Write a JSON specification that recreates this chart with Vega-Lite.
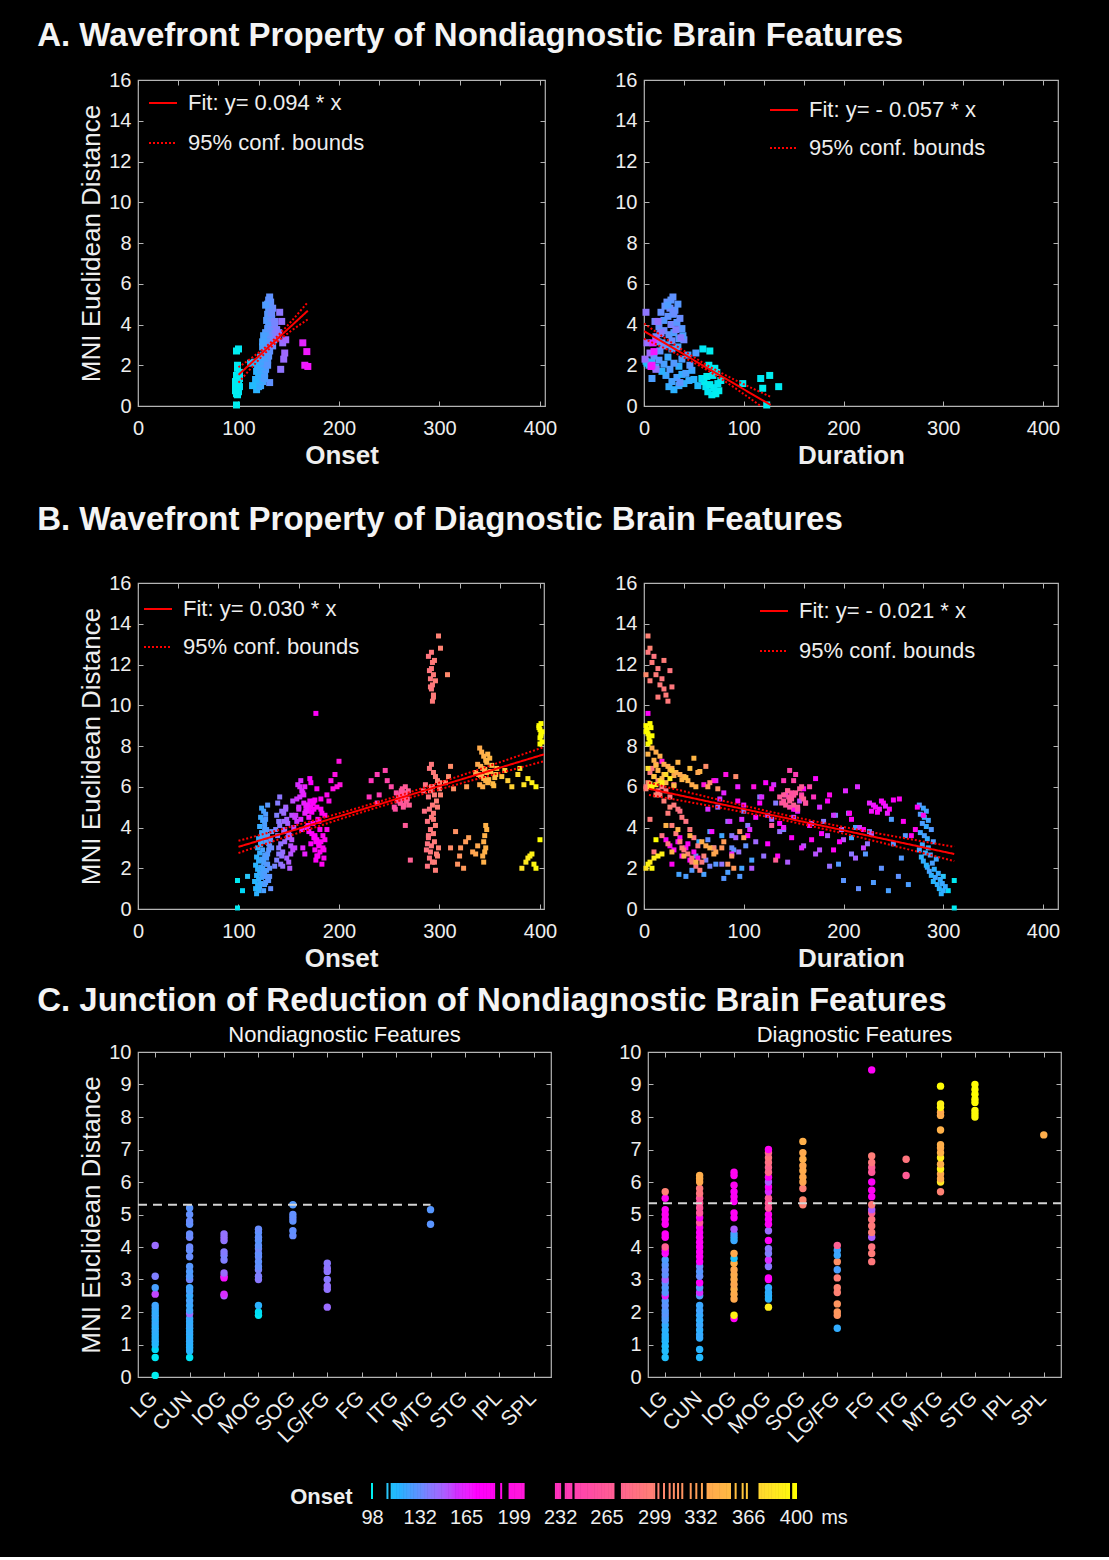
{
  "$schema": "https://vega.github.io/schema/vega-lite/v6.json",
  "background": "black",
  "padding": {"left": 37, "top": 20, "right": 47, "bottom": 30},
  "config": {
    "font": "Liberation Sans",
    "view": {"stroke": "#b4b4b4", "strokeWidth": 1.2},
    "axis": {
      "labelColor": "#eeeeee", "labelFontSize": 20, "labelFont": "Liberation Sans",
      "titleFont": "Liberation Sans", "titleColor": "#eeeeee", "titleFontSize": 26,
      "titleFontWeight": "normal", "domain": false, "grid": false,
      "tickColor": "#b4b4b4", "tickSize": -5, "tickWidth": 1,
      "labelPadding": 12, "titlePadding": 4, "labelFlush": false, "labelOverlap": false
    },
    "axisX": {"titleFontWeight": "bold", "labelPadding": 17},
    "title": {"color": "#f4f4f4", "fontSize": 33, "fontWeight": "bold", "anchor": "start", "font": "Liberation Sans"},
    "legend": {
      "labelColor": "#eeeeee", "labelFontSize": 22, "labelFont": "Liberation Sans", "labelLimit": 400,
      "symbolType": "stroke", "symbolSize": 784, "symbolStrokeWidth": 2, "symbolStrokeColor": "#ff0000",
      "labelOffset": 10, "padding": 0, "rowPadding": 14
    }
  },
  "datasets": {
    "wA": [
      {"o":98,"d":123,"y":0.05},{"o":99,"d":68,"y":0.55},{"o":98,"d":72,"y":0.6},{"o":100,"d":64,"y":0.7},{"o":97,"d":75,"y":0.75},{"o":99,"d":70,"y":0.9},{"o":101,"d":62,"y":0.95},{"o":98,"d":66,"y":1.05},{"o":100,"d":74,"y":1.1},{"o":97,"d":60,"y":1.2},{"o":99,"d":77,"y":1.25},{"o":101,"d":58,"y":1.35},{"o":98,"d":63,"y":1.45},{"o":100,"d":69,"y":1.5},{"o":99,"d":99,"y":1.1},{"o":97,"d":119,"y":0.87},{"o":100,"d":117,"y":1.35},{"o":98,"d":126,"y":1.5},{"o":99,"d":135,"y":0.95},{"o":101,"d":73,"y":1.65},{"o":99,"d":65,"y":2.0},{"o":100,"d":59,"y":2.8},{"o":98,"d":66,"y":2.7},{"o":99,"d":71,"y":1.85},
      {"o":118,"d":30,"y":0.8},{"o":120,"d":25,"y":0.95},{"o":122,"d":35,"y":1.0},{"o":119,"d":40,"y":1.1},{"o":124,"d":28,"y":1.2},{"o":121,"d":45,"y":1.25},{"o":117,"d":50,"y":1.3},{"o":125,"d":33,"y":1.4},{"o":123,"d":22,"y":1.5},{"o":120,"d":38,"y":1.55},{"o":126,"d":42,"y":1.6},{"o":118,"d":18,"y":1.7},{"o":122,"d":48,"y":1.75},{"o":127,"d":26,"y":1.8},{"o":124,"d":12,"y":1.9},{"o":119,"d":35,"y":1.95},{"o":121,"d":5,"y":2.0},{"o":125,"d":20,"y":2.05},{"o":128,"d":30,"y":2.1},{"o":116,"d":8,"y":2.15},{"o":123,"d":2,"y":2.2},{"o":129,"d":15,"y":2.25},{"o":126,"d":38,"y":2.3},{"o":122,"d":24,"y":2.4},{"o":130,"d":10,"y":2.45},{"o":125,"d":44,"y":2.5},{"o":127,"d":52,"y":2.6},{"o":131,"d":16,"y":2.7},{"o":128,"d":28,"y":2.8},{"o":124,"d":34,"y":2.9},{"o":114,"d":54,"y":1.0},{"o":112,"d":3,"y":2.1},{"o":129,"d":46,"y":2.0},{"o":131,"d":36,"y":1.15},{"o":126,"d":8,"y":1.35},
      {"o":126,"d":22,"y":3.0},{"o":130,"d":18,"y":3.1},{"o":133,"d":28,"y":3.2},{"o":128,"d":35,"y":3.3},{"o":135,"d":12,"y":3.4},{"o":131,"d":25,"y":3.5},{"o":127,"d":30,"y":3.6},{"o":134,"d":20,"y":3.7},{"o":129,"d":38,"y":3.8},{"o":132,"d":15,"y":3.9},{"o":136,"d":27,"y":4.0},{"o":130,"d":33,"y":4.1},{"o":128,"d":20,"y":4.2},{"o":133,"d":36,"y":4.3},{"o":131,"d":24,"y":4.4},{"o":129,"d":29,"y":4.5},{"o":132,"d":17,"y":4.6},{"o":130,"d":31,"y":4.7},{"o":134,"d":26,"y":4.8},{"o":131,"d":21,"y":4.9},{"o":129,"d":34,"y":5.0},{"o":132,"d":23,"y":5.1},{"o":130,"d":27,"y":5.2},{"o":131,"d":29,"y":5.35},{"o":135,"d":40,"y":3.25},{"o":137,"d":16,"y":3.55},{"o":125,"d":39,"y":3.45},{"o":124,"d":14,"y":3.15},{"o":138,"d":32,"y":3.75},{"o":136,"d":11,"y":4.15},{"o":133,"d":30,"y":4.55},{"o":127,"d":24,"y":4.95},{"o":134,"d":19,"y":2.95},{"o":139,"d":37,"y":3.35},
      {"o":144,"d":3,"y":3.1},{"o":146,"d":6,"y":2.6},{"o":145,"d":1,"y":2.3},{"o":142,"d":12,"y":1.8},{"o":141,"d":2,"y":4.6},{"o":143,"d":14,"y":4.15},{"o":147,"d":12,"y":3.25},{"o":140,"d":17,"y":3.6},
      {"o":164,"d":9,"y":3.1},{"o":168,"d":10,"y":2.67},{"o":166,"d":8,"y":2.0},{"o":169,"d":7,"y":1.94}
    ],
    "wB": [
      {"o":99,"d":311,"y":0.05},{"o":99,"d":311,"y":1.4},{"o":109,"d":300,"y":1.6},{"o":104,"d":305,"y":0.9},
      {"o":118,"d":298,"y":0.75},{"o":120,"d":300,"y":0.9},{"o":117,"d":296,"y":1.0},{"o":121,"d":302,"y":1.1},{"o":119,"d":294,"y":1.2},{"o":122,"d":299,"y":1.25},{"o":116,"d":290,"y":1.35},{"o":120,"d":297,"y":1.45},{"o":123,"d":292,"y":1.55},{"o":118,"d":288,"y":1.65},{"o":121,"d":295,"y":1.75},{"o":124,"d":286,"y":1.85},{"o":119,"d":291,"y":1.95},{"o":122,"d":284,"y":2.05},{"o":117,"d":283,"y":2.15},{"o":125,"d":289,"y":2.25},{"o":120,"d":280,"y":2.35},{"o":123,"d":293,"y":2.45},{"o":118,"d":278,"y":2.55},{"o":126,"d":287,"y":2.65},{"o":121,"d":282,"y":2.75},{"o":124,"d":276,"y":2.9},{"o":119,"d":285,"y":3.0},{"o":122,"d":279,"y":3.15},{"o":127,"d":290,"y":3.3},{"o":120,"d":284,"y":3.45},{"o":125,"d":281,"y":3.6},{"o":123,"d":277,"y":3.75},{"o":128,"d":288,"y":3.9},{"o":121,"d":283,"y":4.05},{"o":126,"d":279,"y":4.2},{"o":124,"d":285,"y":4.35},{"o":122,"d":281,"y":4.5},{"o":127,"d":277,"y":4.65},{"o":125,"d":283,"y":4.8},{"o":123,"d":280,"y":4.95},{"o":129,"d":276,"y":5.1},
      {"o":126,"d":265,"y":1.2},{"o":128,"d":258,"y":2.5},{"o":130,"d":250,"y":3.2},{"o":125,"d":245,"y":0.9},{"o":131,"d":238,"y":2.0},{"o":127,"d":230,"y":1.3},{"o":129,"d":222,"y":2.7},{"o":132,"d":215,"y":1.0},{"o":124,"d":208,"y":3.5},{"o":130,"d":200,"y":1.4},{"o":128,"d":195,"y":2.2},{"o":126,"d":212,"y":4.0},{"o":133,"d":226,"y":3.8},{"o":127,"d":248,"y":4.4},{"o":129,"d":262,"y":3.6},{"o":131,"d":255,"y":1.6},
      {"o":124,"d":35,"y":1.7},{"o":126,"d":42,"y":1.6},{"o":128,"d":48,"y":1.9},{"o":122,"d":55,"y":3.3},{"o":125,"d":60,"y":1.7},{"o":127,"d":66,"y":3.8},{"o":129,"d":72,"y":2.2},{"o":123,"d":78,"y":3.6},{"o":126,"d":84,"y":1.8},{"o":130,"d":90,"y":2.9},{"o":128,"d":96,"y":1.6},{"o":131,"d":102,"y":3.1},{"o":125,"d":108,"y":2.4},{"o":127,"d":52,"y":2.6},{"o":129,"d":80,"y":1.5},{"o":132,"d":64,"y":3.4},{"o":124,"d":98,"y":2.0},{"o":133,"d":88,"y":3.0},
      {"o":138,"d":62,"y":2.4},{"o":140,"d":70,"y":3.0},{"o":142,"d":78,"y":2.2},{"o":139,"d":88,"y":3.6},{"o":144,"d":95,"y":2.8},{"o":141,"d":104,"y":4.1},{"o":146,"d":112,"y":3.3},{"o":143,"d":120,"y":2.6},{"o":148,"d":128,"y":4.4},{"o":145,"d":136,"y":3.8},{"o":150,"d":144,"y":2.3},{"o":147,"d":152,"y":4.9},{"o":152,"d":160,"y":3.1},{"o":149,"d":168,"y":4.2},{"o":154,"d":176,"y":2.9},{"o":151,"d":184,"y":3.6},{"o":138,"d":192,"y":4.6},{"o":153,"d":200,"y":3.4},{"o":140,"d":208,"y":2.7},{"o":155,"d":216,"y":4.0},{"o":142,"d":224,"y":3.2},{"o":144,"d":186,"y":2.1},{"o":146,"d":198,"y":3.9},{"o":148,"d":212,"y":2.5},{"o":150,"d":228,"y":3.7},{"o":139,"d":132,"y":5.2},{"o":141,"d":116,"y":5.5},{"o":143,"d":100,"y":4.8},{"o":145,"d":84,"y":4.3},{"o":147,"d":74,"y":5.0},{"o":149,"d":92,"y":3.5},{"o":151,"d":108,"y":2.0},{"o":153,"d":124,"y":4.6},{"o":137,"d":140,"y":3.9},{"o":154,"d":156,"y":5.3},{"o":152,"d":172,"y":2.7},{"o":140,"d":180,"y":4.3},{"o":136,"d":66,"y":2.1},{"o":156,"d":220,"y":3.0},{"o":145,"d":205,"y":4.7},
      {"o":170,"d":228,"y":4.8},{"o":172,"d":232,"y":5.0},{"o":168,"d":236,"y":4.9},{"o":174,"d":240,"y":5.2},{"o":166,"d":244,"y":4.7},{"o":171,"d":238,"y":5.3},{"o":169,"d":230,"y":5.1},{"o":175,"d":246,"y":4.9},{"o":173,"d":234,"y":4.75},{"o":167,"d":242,"y":5.05},{"o":176,"d":250,"y":5.35},{"o":165,"d":226,"y":5.2},
      {"o":178,"d":22,"y":3.4},{"o":180,"d":26,"y":3.1},{"o":176,"d":30,"y":2.9},{"o":182,"d":34,"y":3.3},{"o":179,"d":38,"y":2.6},{"o":184,"d":42,"y":3.0},{"o":177,"d":46,"y":2.4},{"o":181,"d":50,"y":2.8},{"o":183,"d":28,"y":2.2},{"o":175,"d":36,"y":3.5},{"o":185,"d":54,"y":2.5},{"o":180,"d":44,"y":3.2},
      {"o":160,"d":64,"y":4.9},{"o":162,"d":72,"y":6.3},{"o":164,"d":80,"y":5.7},{"o":158,"d":86,"y":4.3},{"o":166,"d":94,"y":6.0},{"o":168,"d":100,"y":5.1},{"o":163,"d":106,"y":3.9},{"o":170,"d":112,"y":4.5},{"o":161,"d":118,"y":5.5},{"o":172,"d":124,"y":3.2},{"o":159,"d":130,"y":6.1},{"o":174,"d":136,"y":4.2},{"o":165,"d":142,"y":5.6},{"o":176,"d":148,"y":3.5},{"o":167,"d":154,"y":4.8},{"o":178,"d":160,"y":5.9},{"o":169,"d":166,"y":4.1},{"o":171,"d":172,"y":6.4},{"o":173,"d":178,"y":3.7},{"o":175,"d":184,"y":5.3},{"o":157,"d":190,"y":4.6},{"o":177,"d":196,"y":3.3},{"o":163,"d":202,"y":5.8},{"o":179,"d":208,"y":4.4},{"o":161,"d":214,"y":6.0},{"o":181,"d":220,"y":3.9},{"o":183,"d":206,"y":4.7},{"o":185,"d":190,"y":2.9},{"o":160,"d":176,"y":5.0},{"o":164,"d":158,"y":3.0},{"o":168,"d":140,"y":4.0},{"o":172,"d":122,"y":6.2},{"o":176,"d":104,"y":3.6},{"o":166,"d":88,"y":2.7},{"o":158,"d":76,"y":5.4},{"o":170,"d":68,"y":3.8},{"o":162,"d":98,"y":4.4},{"o":174,"d":116,"y":5.2},{"o":178,"d":134,"y":2.6},{"o":182,"d":150,"y":4.9},{"o":186,"d":168,"y":3.4},{"o":188,"d":186,"y":5.6},{"o":156,"d":150,"y":4.5},{"o":180,"d":260,"y":4.3},{"o":184,"d":268,"y":3.6},{"o":178,"d":274,"y":5.0},{"o":186,"d":280,"y":4.6},{"o":182,"d":256,"y":5.4},{"o":188,"d":272,"y":3.9},
      {"o":177,"d":4,"y":9.6},{"o":200,"d":18,"y":7.25},{"o":192,"d":70,"y":6.3},{"o":196,"d":82,"y":6.6},{"o":198,"d":110,"y":6.0},{"o":194,"d":128,"y":5.9},{"o":190,"d":94,"y":5.3},{"o":201,"d":60,"y":6.1},
      {"o":232,"d":140,"y":6.3},{"o":238,"d":152,"y":6.6},{"o":246,"d":146,"y":6.8},{"o":240,"d":158,"y":5.6},{"o":238,"d":162,"y":5.2},{"o":248,"d":150,"y":6.3},{"o":252,"d":166,"y":6.0},{"o":230,"d":170,"y":5.5},
      {"o":258,"d":140,"y":5.3},{"o":260,"d":145,"y":5.5},{"o":262,"d":150,"y":5.6},{"o":264,"d":148,"y":5.4},{"o":266,"d":152,"y":5.7},{"o":261,"d":138,"y":5.2},{"o":263,"d":156,"y":5.9},{"o":265,"d":142,"y":5.1},{"o":259,"d":158,"y":5.5},{"o":267,"d":146,"y":5.3},{"o":262,"d":144,"y":5.8},{"o":264,"d":154,"y":5.0},{"o":260,"d":150,"y":5.6},{"o":268,"d":160,"y":5.4},{"o":257,"d":148,"y":5.7},{"o":263,"d":136,"y":5.5},{"o":266,"d":158,"y":6.0},{"o":261,"d":162,"y":5.2},{"o":265,"d":140,"y":5.6},{"o":270,"d":150,"y":5.1},{"o":256,"d":154,"y":4.9},{"o":269,"d":144,"y":5.8},{"o":266,"d":128,"y":4.1},{"o":271,"d":132,"y":2.4},{"o":255,"d":146,"y":5.0},
      {"o":290,"d":8,"y":6.9},{"o":292,"d":12,"y":7.1},{"o":294,"d":6,"y":6.7},{"o":296,"d":10,"y":6.5},{"o":298,"d":14,"y":6.3},{"o":300,"d":4,"y":6.2},{"o":293,"d":18,"y":6.0},{"o":291,"d":22,"y":5.8},{"o":295,"d":16,"y":5.6},{"o":289,"d":26,"y":5.5},{"o":297,"d":20,"y":5.3},{"o":293,"d":30,"y":5.1},{"o":290,"d":34,"y":4.9},{"o":294,"d":24,"y":4.7},{"o":292,"d":38,"y":4.5},{"o":288,"d":42,"y":4.3},{"o":296,"d":28,"y":4.1},{"o":291,"d":46,"y":3.9},{"o":294,"d":32,"y":3.7},{"o":289,"d":50,"y":3.5},{"o":295,"d":36,"y":3.3},{"o":292,"d":54,"y":3.1},{"o":287,"d":40,"y":2.9},{"o":297,"d":44,"y":2.7},{"o":290,"d":48,"y":2.5},{"o":293,"d":58,"y":2.3},{"o":288,"d":52,"y":2.1},{"o":296,"d":56,"y":1.9},{"o":300,"d":2,"y":5.9},{"o":286,"d":30,"y":6.1},{"o":298,"d":26,"y":5.0},{"o":284,"d":14,"y":5.8},{"o":299,"d":38,"y":3.0},{"o":291,"d":10,"y":2.8},{"o":294,"d":6,"y":4.4},{"o":289,"d":18,"y":3.6},{"o":292,"d":2,"y":6.0},{"o":295,"d":48,"y":2.3},{"o":285,"d":36,"y":4.8},{"o":298,"d":60,"y":2.6},{"o":301,"d":12,"y":5.6},{"o":288,"d":24,"y":3.2},
      {"o":299,"d":4,"y":13.4},{"o":301,"d":6,"y":12.8},{"o":289,"d":10,"y":12.4},{"o":293,"d":8,"y":12.1},{"o":292,"d":14,"y":11.8},{"o":294,"d":12,"y":11.5},{"o":291,"d":18,"y":11.3},{"o":293,"d":16,"y":11.0},{"o":292,"d":20,"y":10.8},{"o":294,"d":22,"y":10.5},{"o":293,"d":24,"y":10.2},{"o":308,"d":2,"y":11.5},{"o":290,"d":26,"y":11.7},{"o":295,"d":20,"y":12.2},{"o":291,"d":28,"y":10.9},{"o":296,"d":6,"y":11.2},{"o":292,"d":4,"y":12.6},{"o":294,"d":14,"y":10.4},
      {"o":311,"d":62,"y":7.0},{"o":311,"d":70,"y":3.0},{"o":321,"d":78,"y":3.0},{"o":318,"d":84,"y":2.2},{"o":324,"d":90,"y":2.0},{"o":316,"d":96,"y":3.8},{"o":329,"d":100,"y":3.5},{"o":306,"d":66,"y":6.2},{"o":314,"d":74,"y":5.9},{"o":320,"d":88,"y":2.6},{"o":326,"d":80,"y":3.3},{"o":309,"d":92,"y":6.5},{"o":333,"d":72,"y":2.8},{"o":327,"d":64,"y":6.0},
      {"o":340,"d":8,"y":7.9},{"o":342,"d":12,"y":7.7},{"o":344,"d":16,"y":7.5},{"o":346,"d":10,"y":7.3},{"o":338,"d":20,"y":7.1},{"o":341,"d":24,"y":7.0},{"o":343,"d":28,"y":6.9},{"o":345,"d":14,"y":6.8},{"o":347,"d":32,"y":6.7},{"o":339,"d":36,"y":6.6},{"o":342,"d":40,"y":6.5},{"o":344,"d":18,"y":6.4},{"o":346,"d":44,"y":6.3},{"o":348,"d":22,"y":6.2},{"o":340,"d":48,"y":6.1},{"o":343,"d":52,"y":6.0},{"o":345,"d":26,"y":6.85},{"o":341,"d":30,"y":6.55},{"o":347,"d":34,"y":7.2},{"o":349,"d":38,"y":6.35},{"o":351,"d":56,"y":6.75},{"o":353,"d":6,"y":6.15},{"o":355,"d":42,"y":6.45},{"o":357,"d":46,"y":6.9},{"o":350,"d":50,"y":7.4},{"o":336,"d":54,"y":6.7},{"o":352,"d":12,"y":7.05},{"o":354,"d":30,"y":6.05},{"o":348,"d":4,"y":7.6},{"o":356,"d":20,"y":6.6},
      {"o":346,"d":22,"y":4.1},{"o":347,"d":34,"y":3.9},{"o":345,"d":46,"y":3.6},{"o":344,"d":58,"y":3.3},{"o":346,"d":66,"y":3.0},{"o":345,"d":28,"y":2.8},{"o":343,"d":40,"y":2.6},{"o":344,"d":52,"y":2.3},{"o":338,"d":62,"y":3.1},{"o":336,"d":70,"y":2.7},
      {"o":362,"d":10,"y":6.5},{"o":368,"d":16,"y":6.3},{"o":372,"d":6,"y":6.0},{"o":378,"d":22,"y":6.6},{"o":384,"d":12,"y":6.1},{"o":388,"d":26,"y":6.4},{"o":392,"d":18,"y":6.2},{"o":396,"d":8,"y":6.0},{"o":365,"d":28,"y":6.8},{"o":380,"d":4,"y":6.9},
      {"o":382,"d":2,"y":2.0},{"o":386,"d":6,"y":2.3},{"o":388,"d":10,"y":2.5},{"o":390,"d":14,"y":2.6},{"o":392,"d":18,"y":2.7},{"o":394,"d":4,"y":2.2},{"o":396,"d":8,"y":2.0},{"o":400,"d":12,"y":3.4},
      {"o":399,"d":2,"y":9.0},{"o":400,"d":3,"y":8.8},{"o":401,"d":4,"y":8.6},{"o":400,"d":5,"y":8.4},{"o":402,"d":6,"y":8.2},{"o":399,"d":7,"y":8.9},{"o":401,"d":8,"y":8.5},{"o":400,"d":4,"y":8.1},{"o":402,"d":2,"y":8.7},{"o":401,"d":6,"y":9.1}
    ],
    "fAL": [
      {"x":100,"y":1.53,"k":"Fit: y= 0.094 * x","g":"f"},{"x":169,"y":4.68,"k":"Fit: y= 0.094 * x","g":"f"},
      {"x":100,"y":1.9,"k":"95% conf. bounds","g":"u"},{"x":135,"y":3.25,"k":"95% conf. bounds","g":"u"},{"x":169,"y":5.1,"k":"95% conf. bounds","g":"u"},
      {"x":100,"y":1.15,"k":"95% conf. bounds","g":"l"},{"x":135,"y":3.0,"k":"95% conf. bounds","g":"l"},{"x":169,"y":4.25,"k":"95% conf. bounds","g":"l"}
    ],
    "fAR": [
      {"x":0,"y":3.68,"k":"Fit: y= - 0.057 * x","g":"f"},{"x":127,"y":0.05,"k":"Fit: y= - 0.057 * x","g":"f"},
      {"x":0,"y":4.05,"k":"95% conf. bounds","g":"u"},{"x":60,"y":2.1,"k":"95% conf. bounds","g":"u"},{"x":127,"y":0.45,"k":"95% conf. bounds","g":"u"},
      {"x":0,"y":3.3,"k":"95% conf. bounds","g":"l"},{"x":60,"y":1.85,"k":"95% conf. bounds","g":"l"},{"x":127,"y":-0.35,"k":"95% conf. bounds","g":"l"}
    ],
    "fBL": [
      {"x":100,"y":3.05,"k":"Fit: y= 0.030 * x","g":"f"},{"x":404,"y":7.59,"k":"Fit: y= 0.030 * x","g":"f"},
      {"x":100,"y":3.35,"k":"95% conf. bounds","g":"u"},{"x":250,"y":5.42,"k":"95% conf. bounds","g":"u"},{"x":404,"y":7.95,"k":"95% conf. bounds","g":"u"},
      {"x":100,"y":2.75,"k":"95% conf. bounds","g":"l"},{"x":250,"y":5.16,"k":"95% conf. bounds","g":"l"},{"x":404,"y":7.25,"k":"95% conf. bounds","g":"l"}
    ],
    "fBR": [
      {"x":5,"y":5.9,"k":"Fit: y= - 0.021 * x","g":"f"},{"x":311,"y":2.7,"k":"Fit: y= - 0.021 * x","g":"f"},
      {"x":5,"y":6.2,"k":"95% conf. bounds","g":"u"},{"x":160,"y":4.42,"k":"95% conf. bounds","g":"u"},{"x":311,"y":3.05,"k":"95% conf. bounds","g":"u"},
      {"x":5,"y":5.6,"k":"95% conf. bounds","g":"l"},{"x":160,"y":4.15,"k":"95% conf. bounds","g":"l"},{"x":311,"y":2.35,"k":"95% conf. bounds","g":"l"}
    ],
    "cN": [
      {"r":"LG","y":0.05,"o":98},{"r":"LG","y":0.6,"o":100},{"r":"LG","y":0.85,"o":104},{"r":"LG","y":1.0,"o":114},{"r":"LG","y":1.1,"o":116},{"r":"LG","y":1.2,"o":118},{"r":"LG","y":1.3,"o":117},{"r":"LG","y":1.4,"o":119},{"r":"LG","y":1.5,"o":120},{"r":"LG","y":1.6,"o":118},{"r":"LG","y":1.7,"o":121},{"r":"LG","y":1.8,"o":119},{"r":"LG","y":1.9,"o":122},{"r":"LG","y":2.0,"o":120},{"r":"LG","y":2.1,"o":121},{"r":"LG","y":2.2,"o":123},{"r":"LG","y":2.55,"o":155},{"r":"LG","y":2.75,"o":125},{"r":"LG","y":3.1,"o":138},{"r":"LG","y":4.05,"o":145},
      {"r":"CUN","y":0.6,"o":101},{"r":"CUN","y":0.8,"o":116},{"r":"CUN","y":0.9,"o":118},{"r":"CUN","y":1.0,"o":117},{"r":"CUN","y":1.1,"o":119},{"r":"CUN","y":1.2,"o":120},{"r":"CUN","y":1.3,"o":118},{"r":"CUN","y":1.4,"o":121},{"r":"CUN","y":1.5,"o":119},{"r":"CUN","y":1.6,"o":122},{"r":"CUN","y":1.7,"o":120},{"r":"CUN","y":1.8,"o":121},{"r":"CUN","y":1.95,"o":145},{"r":"CUN","y":2.05,"o":123},{"r":"CUN","y":2.2,"o":122},{"r":"CUN","y":2.35,"o":124},{"r":"CUN","y":2.5,"o":121},{"r":"CUN","y":2.65,"o":125},{"r":"CUN","y":2.75,"o":123},{"r":"CUN","y":3.0,"o":135},{"r":"CUN","y":3.1,"o":128},{"r":"CUN","y":3.25,"o":127},{"r":"CUN","y":3.4,"o":129},{"r":"CUN","y":3.7,"o":133},{"r":"CUN","y":3.9,"o":132},{"r":"CUN","y":4.0,"o":134},{"r":"CUN","y":4.3,"o":135},{"r":"CUN","y":4.4,"o":133},{"r":"CUN","y":4.7,"o":131},{"r":"CUN","y":4.8,"o":133},{"r":"CUN","y":5.0,"o":132},{"r":"CUN","y":5.2,"o":130},
      {"r":"IOG","y":2.5,"o":150},{"r":"IOG","y":2.55,"o":160},{"r":"IOG","y":3.05,"o":170},{"r":"IOG","y":3.1,"o":168},{"r":"IOG","y":3.2,"o":145},{"r":"IOG","y":3.6,"o":138},{"r":"IOG","y":3.75,"o":137},{"r":"IOG","y":3.85,"o":139},{"r":"IOG","y":4.2,"o":142},{"r":"IOG","y":4.3,"o":144},{"r":"IOG","y":4.4,"o":143},
      {"r":"MOG","y":1.9,"o":100},{"r":"MOG","y":2.0,"o":102},{"r":"MOG","y":2.2,"o":118},{"r":"MOG","y":3.0,"o":140},{"r":"MOG","y":3.1,"o":138},{"r":"MOG","y":3.3,"o":137},{"r":"MOG","y":3.4,"o":132},{"r":"MOG","y":3.55,"o":131},{"r":"MOG","y":3.7,"o":133},{"r":"MOG","y":3.8,"o":132},{"r":"MOG","y":3.95,"o":134},{"r":"MOG","y":4.05,"o":131},{"r":"MOG","y":4.2,"o":130},{"r":"MOG","y":4.3,"o":132},{"r":"MOG","y":4.45,"o":131},{"r":"MOG","y":4.55,"o":133},
      {"r":"SOG","y":4.35,"o":133},{"r":"SOG","y":4.5,"o":132},{"r":"SOG","y":4.8,"o":131},{"r":"SOG","y":4.9,"o":133},{"r":"SOG","y":5.0,"o":132},{"r":"SOG","y":5.3,"o":128},
      {"r":"LG/FG","y":2.15,"o":145},{"r":"LG/FG","y":2.7,"o":142},{"r":"LG/FG","y":2.8,"o":143},{"r":"LG/FG","y":3.0,"o":140},{"r":"LG/FG","y":3.25,"o":141},{"r":"LG/FG","y":3.35,"o":142},{"r":"LG/FG","y":3.5,"o":140},
      {"r":"MTG","y":4.7,"o":130},{"r":"MTG","y":5.15,"o":129}
    ],
    "cD": [
      {"r":"LG","y":0.6,"o":112},{"r":"LG","y":0.8,"o":114},{"r":"LG","y":0.95,"o":113},{"r":"LG","y":1.1,"o":115},{"r":"LG","y":1.2,"o":116},{"r":"LG","y":1.3,"o":117},{"r":"LG","y":1.45,"o":118},{"r":"LG","y":1.6,"o":120},{"r":"LG","y":1.75,"o":125},{"r":"LG","y":1.85,"o":127},{"r":"LG","y":1.95,"o":130},{"r":"LG","y":2.05,"o":128},{"r":"LG","y":2.2,"o":131},{"r":"LG","y":2.35,"o":129},{"r":"LG","y":2.5,"o":165},{"r":"LG","y":2.6,"o":130},{"r":"LG","y":2.75,"o":128},{"r":"LG","y":2.9,"o":132},{"r":"LG","y":3.0,"o":150},{"r":"LG","y":3.15,"o":131},{"r":"LG","y":3.3,"o":133},{"r":"LG","y":3.45,"o":130},{"r":"LG","y":3.6,"o":127},{"r":"LG","y":3.8,"o":170},{"r":"LG","y":3.9,"o":176},{"r":"LG","y":4.0,"o":272},{"r":"LG","y":4.3,"o":178},{"r":"LG","y":4.4,"o":175},{"r":"LG","y":4.7,"o":180},{"r":"LG","y":4.85,"o":178},{"r":"LG","y":5.0,"o":182},{"r":"LG","y":5.15,"o":179},{"r":"LG","y":5.5,"o":181},{"r":"LG","y":5.7,"o":300},
      {"r":"CUN","y":0.6,"o":115},{"r":"CUN","y":0.85,"o":117},{"r":"CUN","y":1.2,"o":120},{"r":"CUN","y":1.3,"o":121},{"r":"CUN","y":1.45,"o":119},{"r":"CUN","y":1.6,"o":122},{"r":"CUN","y":1.75,"o":120},{"r":"CUN","y":1.9,"o":121},{"r":"CUN","y":2.05,"o":123},{"r":"CUN","y":2.2,"o":122},{"r":"CUN","y":2.5,"o":128},{"r":"CUN","y":2.6,"o":160},{"r":"CUN","y":2.75,"o":130},{"r":"CUN","y":2.9,"o":175},{"r":"CUN","y":3.1,"o":132},{"r":"CUN","y":3.25,"o":129},{"r":"CUN","y":3.4,"o":135},{"r":"CUN","y":3.55,"o":176},{"r":"CUN","y":3.7,"o":178},{"r":"CUN","y":3.85,"o":180},{"r":"CUN","y":4.0,"o":177},{"r":"CUN","y":4.15,"o":179},{"r":"CUN","y":4.3,"o":181},{"r":"CUN","y":4.45,"o":178},{"r":"CUN","y":4.6,"o":182},{"r":"CUN","y":4.75,"o":262},{"r":"CUN","y":4.9,"o":180},{"r":"CUN","y":5.05,"o":265},{"r":"CUN","y":5.2,"o":260},{"r":"CUN","y":5.35,"o":268},{"r":"CUN","y":5.5,"o":263},{"r":"CUN","y":5.65,"o":290},{"r":"CUN","y":5.8,"o":292},{"r":"CUN","y":6.0,"o":338},{"r":"CUN","y":6.1,"o":340},{"r":"CUN","y":6.2,"o":342},
      {"r":"IOG","y":1.8,"o":178},{"r":"IOG","y":1.9,"o":392},{"r":"IOG","y":2.4,"o":338},{"r":"IOG","y":2.55,"o":340},{"r":"IOG","y":2.7,"o":342},{"r":"IOG","y":2.85,"o":336},{"r":"IOG","y":3.0,"o":339},{"r":"IOG","y":3.15,"o":341},{"r":"IOG","y":3.3,"o":337},{"r":"IOG","y":3.5,"o":343},{"r":"IOG","y":3.65,"o":110},{"r":"IOG","y":3.8,"o":340},{"r":"IOG","y":4.2,"o":122},{"r":"IOG","y":4.3,"o":120},{"r":"IOG","y":4.4,"o":124},{"r":"IOG","y":4.55,"o":150},{"r":"IOG","y":4.9,"o":176},{"r":"IOG","y":5.05,"o":180},{"r":"IOG","y":5.4,"o":178},{"r":"IOG","y":5.55,"o":181},{"r":"IOG","y":5.7,"o":177},{"r":"IOG","y":5.9,"o":183},{"r":"IOG","y":6.2,"o":182},{"r":"IOG","y":6.3,"o":185},
      {"r":"MOG","y":2.15,"o":390},{"r":"MOG","y":2.4,"o":118},{"r":"MOG","y":2.5,"o":117},{"r":"MOG","y":2.6,"o":119},{"r":"MOG","y":2.75,"o":120},{"r":"MOG","y":3.0,"o":175},{"r":"MOG","y":3.05,"o":178},{"r":"MOG","y":3.4,"o":140},{"r":"MOG","y":3.6,"o":160},{"r":"MOG","y":3.8,"o":138},{"r":"MOG","y":3.95,"o":140},{"r":"MOG","y":4.2,"o":178},{"r":"MOG","y":4.5,"o":145},{"r":"MOG","y":4.7,"o":180},{"r":"MOG","y":4.85,"o":176},{"r":"MOG","y":5.0,"o":182},{"r":"MOG","y":5.2,"o":262},{"r":"MOG","y":5.35,"o":268},{"r":"MOG","y":5.5,"o":265},{"r":"MOG","y":5.7,"o":160},{"r":"MOG","y":5.85,"o":175},{"r":"MOG","y":6.0,"o":150},{"r":"MOG","y":6.15,"o":178},{"r":"MOG","y":6.3,"o":280},{"r":"MOG","y":6.45,"o":275},{"r":"MOG","y":6.6,"o":285},{"r":"MOG","y":6.75,"o":290},{"r":"MOG","y":6.9,"o":278},{"r":"MOG","y":7.0,"o":182},
      {"r":"SOG","y":5.3,"o":300},{"r":"SOG","y":5.45,"o":305},{"r":"SOG","y":5.8,"o":298},{"r":"SOG","y":6.0,"o":335},{"r":"SOG","y":6.15,"o":338},{"r":"SOG","y":6.35,"o":340},{"r":"SOG","y":6.5,"o":336},{"r":"SOG","y":6.7,"o":342},{"r":"SOG","y":6.9,"o":339},{"r":"SOG","y":7.25,"o":344},
      {"r":"LG/FG","y":1.5,"o":120},{"r":"LG/FG","y":1.9,"o":318},{"r":"LG/FG","y":2.0,"o":322},{"r":"LG/FG","y":2.25,"o":320},{"r":"LG/FG","y":2.6,"o":300},{"r":"LG/FG","y":2.75,"o":302},{"r":"LG/FG","y":3.05,"o":298},{"r":"LG/FG","y":3.3,"o":125},{"r":"LG/FG","y":3.55,"o":315},{"r":"LG/FG","y":3.75,"o":122},{"r":"LG/FG","y":3.9,"o":123},{"r":"LG/FG","y":4.05,"o":272},
      {"r":"FG","y":3.55,"o":292},{"r":"FG","y":3.8,"o":295},{"r":"FG","y":4.0,"o":290},{"r":"FG","y":4.3,"o":150},{"r":"FG","y":4.45,"o":296},{"r":"FG","y":4.65,"o":293},{"r":"FG","y":4.85,"o":290},{"r":"FG","y":5.05,"o":270},{"r":"FG","y":5.15,"o":150},{"r":"FG","y":5.3,"o":294},{"r":"FG","y":5.55,"o":180},{"r":"FG","y":5.75,"o":182},{"r":"FG","y":6.0,"o":178},{"r":"FG","y":6.3,"o":265},{"r":"FG","y":6.45,"o":268},{"r":"FG","y":6.6,"o":292},{"r":"FG","y":6.8,"o":296},{"r":"FG","y":9.45,"o":178},
      {"r":"ITG","y":6.2,"o":268},{"r":"ITG","y":6.7,"o":290},
      {"r":"MTG","y":5.7,"o":300},{"r":"MTG","y":6.0,"o":385},{"r":"MTG","y":6.1,"o":340},{"r":"MTG","y":6.25,"o":336},{"r":"MTG","y":6.4,"o":390},{"r":"MTG","y":6.55,"o":342},{"r":"MTG","y":6.75,"o":388},{"r":"MTG","y":6.9,"o":345},{"r":"MTG","y":7.05,"o":340},{"r":"MTG","y":7.15,"o":343},{"r":"MTG","y":7.6,"o":345},{"r":"MTG","y":8.05,"o":342},{"r":"MTG","y":8.15,"o":338},{"r":"MTG","y":8.3,"o":395},{"r":"MTG","y":8.4,"o":392},{"r":"MTG","y":8.95,"o":398},
      {"r":"STG","y":8.0,"o":396},{"r":"STG","y":8.1,"o":398},{"r":"STG","y":8.2,"o":397},{"r":"STG","y":8.45,"o":399},{"r":"STG","y":8.55,"o":398},{"r":"STG","y":8.7,"o":400},{"r":"STG","y":8.85,"o":399},{"r":"STG","y":9.0,"o":398},
      {"r":"SPL","y":7.45,"o":342}
    ],
    "tN": [{"a":0,"b":8.5,"y":5.3}],
    "tD": [{"a":0,"b":12,"y":5.35}],
    "bar": [
      {"o":98},{"o":109},
      {"o":112},{"o":113},{"o":114},{"o":115},{"o":116},{"o":117},{"o":118},{"o":119},{"o":120},{"o":121},{"o":122},{"o":123},{"o":124},{"o":125},{"o":126},{"o":127},{"o":128},{"o":129},{"o":130},{"o":131},{"o":132},{"o":133},{"o":134},{"o":135},{"o":136},{"o":137},{"o":138},{"o":139},{"o":140},{"o":141},{"o":142},{"o":143},{"o":144},{"o":145},{"o":146},{"o":147},{"o":148},{"o":149},{"o":150},{"o":151},{"o":152},{"o":153},{"o":154},{"o":155},{"o":156},{"o":157},{"o":158},{"o":159},{"o":160},{"o":161},{"o":162},{"o":163},{"o":164},{"o":165},{"o":166},{"o":167},{"o":168},{"o":169},{"o":170},{"o":171},{"o":172},{"o":173},{"o":174},{"o":175},{"o":176},{"o":177},{"o":178},{"o":179},{"o":180},{"o":181},{"o":182},{"o":183},{"o":184},{"o":185},
      {"o":190},{"o":196},{"o":197},{"o":198},{"o":199},{"o":200},{"o":201},{"o":202},{"o":203},{"o":204},{"o":205},{"o":206},
      {"o":229},{"o":230},{"o":231},{"o":232},{"o":236},{"o":237},{"o":238},{"o":239},{"o":240},
      {"o":243},{"o":244},{"o":245},{"o":246},{"o":247},{"o":248},{"o":249},{"o":250},{"o":251},{"o":252},{"o":253},{"o":254},{"o":255},{"o":256},{"o":257},{"o":258},{"o":259},{"o":260},{"o":261},{"o":262},{"o":263},{"o":264},{"o":265},{"o":266},{"o":267},{"o":268},{"o":269},{"o":270},
      {"o":276},{"o":277},{"o":278},{"o":279},{"o":280},{"o":281},{"o":282},{"o":283},{"o":284},{"o":285},{"o":286},{"o":287},{"o":288},{"o":289},{"o":290},{"o":291},{"o":292},{"o":293},{"o":294},{"o":295},{"o":296},{"o":297},{"o":298},{"o":299},
      {"o":302},{"o":306},{"o":310},{"o":313},{"o":316},{"o":319},{"o":325},{"o":329},{"o":333},
      {"o":337},{"o":338},{"o":339},{"o":340},{"o":341},{"o":342},{"o":343},{"o":344},{"o":345},{"o":346},{"o":347},{"o":348},{"o":349},{"o":350},{"o":351},{"o":352},{"o":353},
      {"o":357},{"o":362},{"o":365},
      {"o":374},{"o":375},{"o":376},{"o":377},{"o":378},{"o":379},{"o":380},{"o":381},{"o":382},{"o":383},{"o":384},{"o":385},{"o":386},{"o":387},{"o":388},{"o":389},{"o":390},{"o":391},{"o":392},{"o":393},{"o":394},{"o":395},
      {"o":398},{"o":399},{"o":400}
    ]
  },
  "spacing": 13,
  "resolve": {"scale": {"color": "independent", "strokeDash": "independent"}, "legend": {"strokeDash": "independent"}},
  "vconcat": [
    {
      "spacing": 35,
      "resolve": {"scale": {"color": "independent", "strokeDash": "independent"}, "legend": {"strokeDash": "independent"}},
      "vconcat": [
        {
          "title": {"text": "A. Wavefront Property of Nondiagnostic Brain Features", "dx": -41, "offset": 16},
          "spacing": 56,
          "resolve": {"scale": {"x": "independent", "y": "independent", "color": "independent", "strokeDash": "independent"}, "legend": {"strokeDash": "independent"}},
          "hconcat": [
            {
              "width": 407, "height": 326,
              "layer": [
                {
                  "data": {"name": "wA"},
                  "mark": {"type": "square", "size": 49, "opacity": 1},
                  "encoding": {
                    "x": {"field": "o", "type": "quantitative", "scale": {"domain": [0, 405], "nice": false, "zero": false}, "axis": {"values": [0, 100, 200, 300, 400], "title": "Onset"}},
                    "y": {"field": "y", "type": "quantitative", "scale": {"domain": [0, 16], "nice": false}, "axis": {"values": [0, 2, 4, 6, 8, 10, 12, 14, 16], "title": "MNI Euclidean Distance"}},
                    "color": {"field": "o", "type": "quantitative", "legend": null, "scale": {"type": "linear", "clamp": true, "domain": [98, 108, 125, 140, 158, 172, 215, 250, 275, 300, 335, 365, 400], "range": ["#00eef0", "#2cc8f8", "#48a0ff", "#8a78ff", "#d030ff", "#ff00ff", "#ff20d0", "#ff48a8", "#ff6490", "#ff8274", "#ffa650", "#ffc83a", "#ffff00"]}}
                  }
                },
                {
                  "data": {"name": "fAL"},
                  "mark": {"type": "line", "color": "#ff0000", "strokeWidth": 2, "clip": true, "interpolate": "monotone"},
                  "encoding": {
                    "x": {"field": "x", "type": "quantitative", "axis": {"orient": "top", "labels": false, "title": null, "values": [0, 40, 80, 120, 160, 200, 240, 280, 320, 360, 400]}},
                    "y": {"field": "y", "type": "quantitative", "axis": {"orient": "right", "labels": false, "title": null, "values": [0, 2, 4, 6, 8, 10, 12, 14, 16]}},
                    "detail": {"field": "g"},
                    "strokeDash": {"field": "k", "type": "nominal", "scale": {"domain": ["Fit: y= 0.094 * x", "95% conf. bounds"], "range": [[1, 0], [2, 2]]}, "legend": {"title": null, "orient": "none", "legendX": 10, "legendY": 8, "rowPadding": 14}}
                  }
                }
              ],
              "resolve": {"axis": {"x": "independent", "y": "independent"}}
            },
            {
              "width": 414, "height": 326,
              "layer": [
                {
                  "data": {"name": "wA"},
                  "mark": {"type": "square", "size": 49, "opacity": 1},
                  "encoding": {
                    "x": {"field": "d", "type": "quantitative", "scale": {"domain": [0, 415], "nice": false, "zero": false}, "axis": {"values": [0, 100, 200, 300, 400], "title": "Duration"}},
                    "y": {"field": "y", "type": "quantitative", "scale": {"domain": [0, 16], "nice": false}, "axis": {"values": [0, 2, 4, 6, 8, 10, 12, 14, 16], "title": null}},
                    "color": {"field": "o", "type": "quantitative", "legend": null, "scale": {"type": "linear", "clamp": true, "domain": [98, 108, 125, 140, 158, 172, 215, 250, 275, 300, 335, 365, 400], "range": ["#00eef0", "#2cc8f8", "#48a0ff", "#8a78ff", "#d030ff", "#ff00ff", "#ff20d0", "#ff48a8", "#ff6490", "#ff8274", "#ffa650", "#ffc83a", "#ffff00"]}}
                  }
                },
                {
                  "data": {"name": "fAR"},
                  "mark": {"type": "line", "color": "#ff0000", "strokeWidth": 2, "clip": true, "interpolate": "monotone"},
                  "encoding": {
                    "x": {"field": "x", "type": "quantitative", "axis": {"orient": "top", "labels": false, "title": null, "values": [0, 40, 80, 120, 160, 200, 240, 280, 320, 360, 400]}},
                    "y": {"field": "y", "type": "quantitative", "axis": {"orient": "right", "labels": false, "title": null, "values": [0, 2, 4, 6, 8, 10, 12, 14, 16]}},
                    "detail": {"field": "g"},
                    "strokeDash": {"field": "k", "type": "nominal", "scale": {"domain": ["Fit: y= - 0.057 * x", "95% conf. bounds"], "range": [[1, 0], [2, 2]]}, "legend": {"title": null, "orient": "none", "legendX": 125, "legendY": 15, "rowPadding": 12}}
                  }
                }
              ],
              "resolve": {"axis": {"x": "independent", "y": "independent"}}
            }
          ]
        },
        {
          "title": {"text": "B. Wavefront Property of Diagnostic Brain Features", "dx": -41, "offset": 35},
          "spacing": 56,
          "resolve": {"scale": {"x": "independent", "y": "independent", "color": "independent", "strokeDash": "independent"}, "legend": {"strokeDash": "independent"}},
          "hconcat": [
            {
              "width": 406, "height": 326,
              "layer": [
                {
                  "data": {"name": "wB"},
                  "mark": {"type": "square", "size": 25, "opacity": 1},
                  "encoding": {
                    "x": {"field": "o", "type": "quantitative", "scale": {"domain": [0, 404], "nice": false, "zero": false}, "axis": {"values": [0, 100, 200, 300, 400], "title": "Onset"}},
                    "y": {"field": "y", "type": "quantitative", "scale": {"domain": [0, 16], "nice": false}, "axis": {"values": [0, 2, 4, 6, 8, 10, 12, 14, 16], "title": "MNI Euclidean Distance"}},
                    "color": {"field": "o", "type": "quantitative", "legend": null, "scale": {"type": "linear", "clamp": true, "domain": [98, 108, 125, 140, 158, 172, 215, 250, 275, 300, 335, 365, 400], "range": ["#00eef0", "#2cc8f8", "#48a0ff", "#8a78ff", "#d030ff", "#ff00ff", "#ff20d0", "#ff48a8", "#ff6490", "#ff8274", "#ffa650", "#ffc83a", "#ffff00"]}}
                  }
                },
                {
                  "data": {"name": "fBL"},
                  "mark": {"type": "line", "color": "#ff0000", "strokeWidth": 2, "clip": true, "interpolate": "monotone"},
                  "encoding": {
                    "x": {"field": "x", "type": "quantitative", "axis": {"orient": "top", "labels": false, "title": null, "values": [0, 40, 80, 120, 160, 200, 240, 280, 320, 360, 400]}},
                    "y": {"field": "y", "type": "quantitative", "axis": {"orient": "right", "labels": false, "title": null, "values": [0, 2, 4, 6, 8, 10, 12, 14, 16]}},
                    "detail": {"field": "g"},
                    "strokeDash": {"field": "k", "type": "nominal", "scale": {"domain": ["Fit: y= 0.030 * x", "95% conf. bounds"], "range": [[1, 0], [2, 2]]}, "legend": {"title": null, "orient": "none", "legendX": 5, "legendY": 11, "rowPadding": 12}}
                  }
                }
              ],
              "resolve": {"axis": {"x": "independent", "y": "independent"}}
            },
            {
              "width": 414, "height": 326,
              "layer": [
                {
                  "data": {"name": "wB"},
                  "mark": {"type": "square", "size": 25, "opacity": 1},
                  "encoding": {
                    "x": {"field": "d", "type": "quantitative", "scale": {"domain": [0, 415], "nice": false, "zero": false}, "axis": {"values": [0, 100, 200, 300, 400], "title": "Duration"}},
                    "y": {"field": "y", "type": "quantitative", "scale": {"domain": [0, 16], "nice": false}, "axis": {"values": [0, 2, 4, 6, 8, 10, 12, 14, 16], "title": null}},
                    "color": {"field": "o", "type": "quantitative", "legend": null, "scale": {"type": "linear", "clamp": true, "domain": [98, 108, 125, 140, 158, 172, 215, 250, 275, 300, 335, 365, 400], "range": ["#00eef0", "#2cc8f8", "#48a0ff", "#8a78ff", "#d030ff", "#ff00ff", "#ff20d0", "#ff48a8", "#ff6490", "#ff8274", "#ffa650", "#ffc83a", "#ffff00"]}}
                  }
                },
                {
                  "data": {"name": "fBR"},
                  "mark": {"type": "line", "color": "#ff0000", "strokeWidth": 2, "clip": true, "interpolate": "monotone"},
                  "encoding": {
                    "x": {"field": "x", "type": "quantitative", "axis": {"orient": "top", "labels": false, "title": null, "values": [0, 40, 80, 120, 160, 200, 240, 280, 320, 360, 400]}},
                    "y": {"field": "y", "type": "quantitative", "axis": {"orient": "right", "labels": false, "title": null, "values": [0, 2, 4, 6, 8, 10, 12, 14, 16]}},
                    "detail": {"field": "g"},
                    "strokeDash": {"field": "k", "type": "nominal", "scale": {"domain": ["Fit: y= - 0.021 * x", "95% conf. bounds"], "range": [[1, 0], [2, 2]]}, "legend": {"title": null, "orient": "none", "legendX": 115, "legendY": 13, "rowPadding": 14}}
                  }
                }
              ],
              "resolve": {"axis": {"x": "independent", "y": "independent"}}
            }
          ]
        }
      ]
    },
    {
      "spacing": 35,
      "resolve": {"scale": {"color": "independent"}},
      "vconcat": [
        {
          "title": {"text": "C. Junction of Reduction of Nondiagnostic Brain Features", "dx": -41, "offset": 5},
          "spacing": 65,
          "resolve": {"scale": {"x": "independent", "y": "independent", "color": "independent"}},
          "hconcat": [
            {
              "width": 413, "height": 325,
              "title": {"text": "Nondiagnostic Features", "fontSize": 22, "fontWeight": "normal", "anchor": "middle", "offset": 6, "dy": 11},
              "layer": [
                {
                  "data": {"name": "cN"},
                  "mark": {"type": "circle", "size": 55, "opacity": 1},
                  "encoding": {
                    "x": {"field": "r", "type": "nominal", "scale": {"type": "point", "padding": 0.5, "domain": ["LG", "CUN", "IOG", "MOG", "SOG", "LG/FG", "FG", "ITG", "MTG", "STG", "IPL", "SPL"]}, "axis": {"title": null, "labelAngle": -45, "labelFontSize": 21, "labelPadding": 15, "labelOffset": -9}},
                    "y": {"field": "y", "type": "quantitative", "scale": {"domain": [0, 10], "nice": false}, "axis": {"values": [0, 1, 2, 3, 4, 5, 6, 7, 8, 9, 10], "title": "MNI Euclidean Distance"}},
                    "color": {"field": "o", "type": "quantitative", "legend": null, "scale": {"type": "linear", "clamp": true, "domain": [98, 108, 125, 140, 158, 172, 215, 250, 275, 300, 335, 365, 400], "range": ["#00eef0", "#2cc8f8", "#48a0ff", "#8a78ff", "#d030ff", "#ff00ff", "#ff20d0", "#ff48a8", "#ff6490", "#ff8274", "#ffa650", "#ffc83a", "#ffff00"]}}
                  }
                },
                {
                  "data": {"name": "tN"},
                  "mark": {"type": "rule", "color": "#d4d4d4", "strokeWidth": 2, "strokeDash": [9, 6]},
                  "encoding": {
                    "x": {"field": "a", "type": "quantitative", "scale": {"domain": [0, 12], "nice": false, "zero": false}, "axis": {"orient": "top", "labels": false, "title": null, "values": [0.5, 1.5, 2.5, 3.5, 4.5, 5.5, 6.5, 7.5, 8.5, 9.5, 10.5, 11.5]}},
                    "x2": {"field": "b"},
                    "y": {"field": "y", "type": "quantitative", "axis": {"orient": "right", "labels": false, "title": null, "values": [0, 1, 2, 3, 4, 5, 6, 7, 8, 9, 10]}}
                  }
                }
              ],
              "resolve": {"scale": {"x": "independent"}, "axis": {"x": "independent", "y": "independent"}}
            },
            {
              "width": 413, "height": 325,
              "title": {"text": "Diagnostic Features", "fontSize": 22, "fontWeight": "normal", "anchor": "middle", "offset": 6, "dy": 11},
              "layer": [
                {
                  "data": {"name": "cD"},
                  "mark": {"type": "circle", "size": 55, "opacity": 1},
                  "encoding": {
                    "x": {"field": "r", "type": "nominal", "scale": {"type": "point", "padding": 0.5, "domain": ["LG", "CUN", "IOG", "MOG", "SOG", "LG/FG", "FG", "ITG", "MTG", "STG", "IPL", "SPL"]}, "axis": {"title": null, "labelAngle": -45, "labelFontSize": 21, "labelPadding": 15, "labelOffset": -9}},
                    "y": {"field": "y", "type": "quantitative", "scale": {"domain": [0, 10], "nice": false}, "axis": {"values": [0, 1, 2, 3, 4, 5, 6, 7, 8, 9, 10], "title": null}},
                    "color": {"field": "o", "type": "quantitative", "legend": null, "scale": {"type": "linear", "clamp": true, "domain": [98, 108, 125, 140, 158, 172, 215, 250, 275, 300, 335, 365, 400], "range": ["#00eef0", "#2cc8f8", "#48a0ff", "#8a78ff", "#d030ff", "#ff00ff", "#ff20d0", "#ff48a8", "#ff6490", "#ff8274", "#ffa650", "#ffc83a", "#ffff00"]}}
                  }
                },
                {
                  "data": {"name": "tD"},
                  "mark": {"type": "rule", "color": "#d4d4d4", "strokeWidth": 2, "strokeDash": [9, 6]},
                  "encoding": {
                    "x": {"field": "a", "type": "quantitative", "scale": {"domain": [0, 12], "nice": false, "zero": false}, "axis": {"orient": "top", "labels": false, "title": null, "values": [0.5, 1.5, 2.5, 3.5, 4.5, 5.5, 6.5, 7.5, 8.5, 9.5, 10.5, 11.5]}},
                    "x2": {"field": "b"},
                    "y": {"field": "y", "type": "quantitative", "axis": {"orient": "right", "labels": false, "title": null, "values": [0, 1, 2, 3, 4, 5, 6, 7, 8, 9, 10]}}
                  }
                }
              ],
              "resolve": {"scale": {"x": "independent"}, "axis": {"x": "independent", "y": "independent"}}
            }
          ]
        },
        {
          "spacing": 20,
          "hconcat": [
            {
              "width": 131, "height": 16,
              "view": {"stroke": null},
              "data": {"values": []},
              "mark": "point",
              "encoding": {}
            },
            {
              "width": 424, "height": 16,
              "view": {"stroke": null},
              "data": {"name": "bar"},
              "mark": {"type": "tick", "thickness": 2, "size": 16, "orient": "vertical", "opacity": 1},
              "encoding": {
                "x": {"field": "o", "type": "quantitative", "scale": {"domain": [98, 400], "nice": false, "zero": false}, "axis": {"values": [98, 132, 165, 199, 232, 265, 299, 332, 366, 400], "ticks": false, "labelPadding": 8, "title": "ms", "titleFontWeight": "normal", "titleFontSize": 20, "titleX": 462, "titleY": 8, "titleBaseline": "top", "titleAlign": "center", "titleAngle": 0}},
                "y": {"datum": "Onset", "type": "nominal", "axis": {"title": null, "ticks": false, "labelFontWeight": "bold", "labelFontSize": 22, "labelPadding": 20, "labelOffset": 6}},
                "color": {"field": "o", "type": "quantitative", "legend": null, "scale": {"type": "linear", "clamp": true, "domain": [98, 108, 125, 140, 158, 172, 215, 250, 275, 300, 335, 365, 400], "range": ["#00eef0", "#2cc8f8", "#48a0ff", "#8a78ff", "#d030ff", "#ff00ff", "#ff20d0", "#ff48a8", "#ff6490", "#ff8274", "#ffa650", "#ffc83a", "#ffff00"]}}
              }
            }
          ]
        }
      ]
    }
  ]
}
